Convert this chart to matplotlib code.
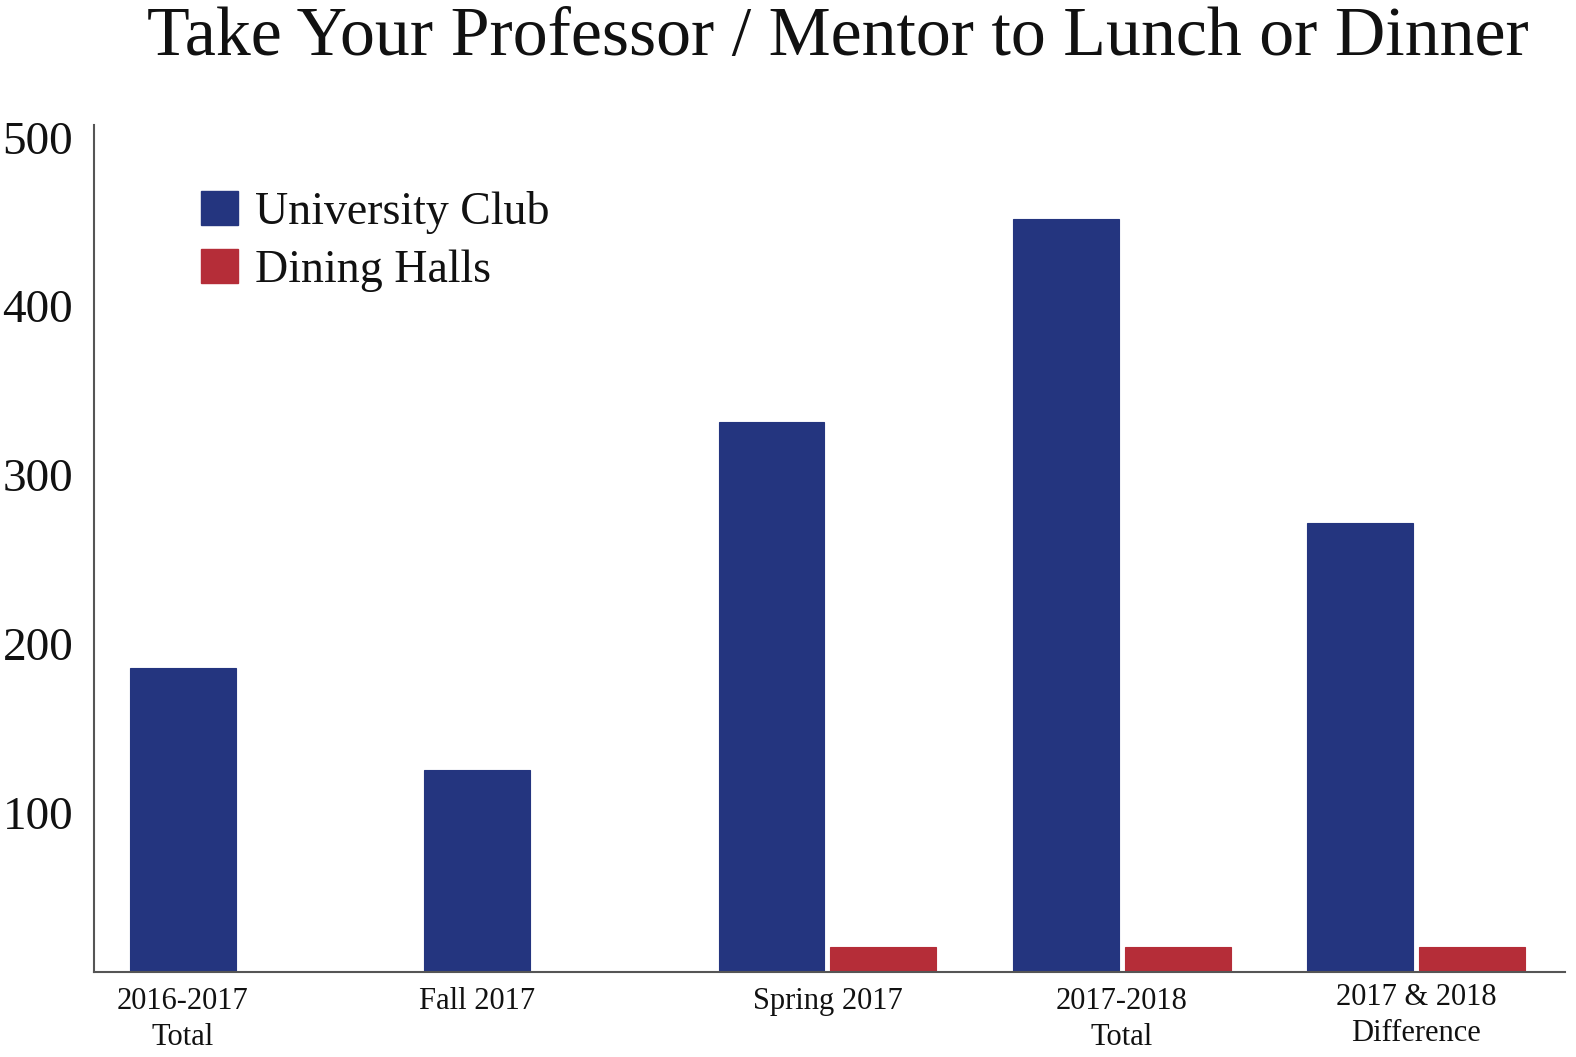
import numpy as np
import matplotlib
matplotlib.use('Agg')
import matplotlib.pyplot as plt
from matplotlib.patches import Patch
import matplotlib.transforms as mtrans

''' chart data '''
categories = ['2016-2017\nTotal', 'Fall 2017', 'Spring 2017', '2017-2018\nTotal', '2017 & 2018\nDifference']
univ_club = [180, 120, 326, 446, 266]
dining_halls = [0, 0, 15, 15, 15]
label_lift = [0, 0, 0, 0, 4]   # last label sits a bit higher in the original
yticks = [100, 200, 300, 400, 500]

c_blue = '#24357f'
c_red = '#b52d38'
fnt = 'Liberation Serif'

plt.rcParams['font.family'] = [fnt, 'DejaVu Serif']

fig = plt.figure(figsize=(15.76, 10.57), dpi=100)
ax = fig.add_axes([94/1576., 1-972/1057., (1565-94)/1576., (972-125)/1057.])

x = np.arange(len(categories))
w = 0.36
off = 0.38
ax.bar(x, univ_club, width=w, color=c_blue, edgecolor=c_blue, linewidth=0.8)
for i in range(len(x)):
    if dining_halls[i] > 0:
        ax.bar(x[i] + off, dining_halls[i], width=w, color=c_red, edgecolor=c_red, linewidth=0.8)

ax.set_xlim(-0.302, 4.696)
ax.set_ylim(0, 502)

for s in ['top', 'right']:
    ax.spines[s].set_visible(False)
for s in ['left', 'bottom']:
    ax.spines[s].set_color('#555555')
    ax.spines[s].set_linewidth(1.5)

ax.set_xticks([])
ax.set_yticks(yticks)
ax.set_yticklabels([str(v) for v in yticks], fontsize=34, color='#111111')
ax.tick_params(axis='y', length=0, pad=15)
# numbers sit a little below their gridline value in the original
shift = mtrans.ScaledTranslation(0, -9/100., fig.dpi_scale_trans)
for t in ax.get_yticklabels():
    t.set_transform(t.get_transform() + shift)

# category labels under the bars, centred on the visible bars
trans = mtrans.blended_transform_factory(ax.transData, fig.transFigure)
for i, lab in enumerate(categories):
    xc = x[i] + off / 2. if dining_halls[i] > 0 else x[i]
    ax.text(xc, 1 - (987 - label_lift[i]) / 1057., lab, transform=trans, ha='center', va='top',
            fontsize=22, color='#111111', linespacing=1.3)

fig.text(838/1576., 1 - 38/1057., 'Take Your Professor / Mentor to Lunch or Dinner',
         ha='center', va='center', fontsize=50.3, color='#111111')

handles = [Patch(facecolor=c_blue, edgecolor=c_blue), Patch(facecolor=c_red, edgecolor=c_red)]
ax.legend(handles, ['University Club', 'Dining Halls'], loc='upper left',
          bbox_to_anchor=(201/1576., 1 - 191/1057.), bbox_transform=fig.transFigure,
          frameon=False, fontsize=33, borderpad=0, borderaxespad=0,
          handlelength=0.81, handleheight=0.76, handletextpad=0.37, labelspacing=0.32,
          labelcolor='#111111')

fig.savefig('out.png', dpi=100, facecolor='white')
